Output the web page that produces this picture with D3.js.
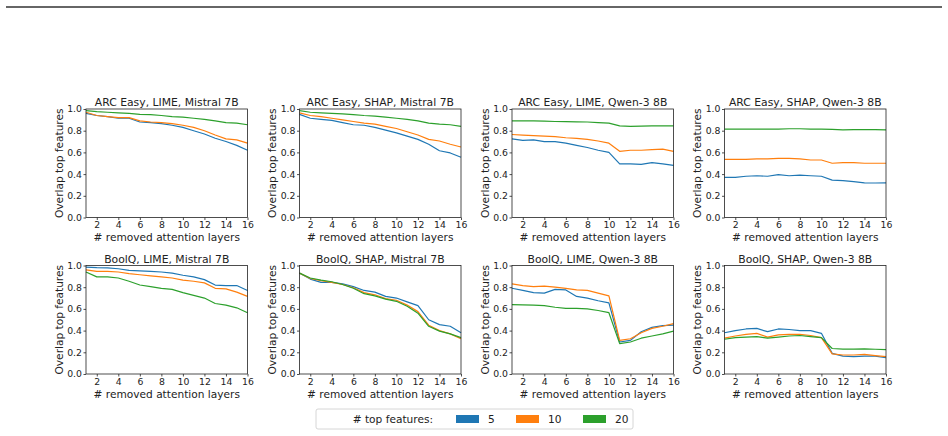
<!DOCTYPE html>
<html><head><meta charset="utf-8">
<script src="https://cdn.jsdelivr.net/npm/d3@7"></script>
<style>
body{margin:0;background:#fff;}
svg{display:block;font-family:"DejaVu Sans",sans-serif;}
</style></head>
<body><svg id="c" width="948" height="436"></svg>
<script>
const layers = d3.range(1, 17);
const xTicks = [2,4,6,8,10,12,14,16];
const yTicks = [0,0.2,0.4,0.6,0.8,1.0];
const seriesNames = ["5","10","20"];
const colors = ["#1f77b4","#ff7f0e","#2ca02c"];
const titles = [
  "ARC Easy, LIME, Mistral 7B","ARC Easy, SHAP, Mistral 7B","ARC Easy, LIME, Qwen-3 8B","ARC Easy, SHAP, Qwen-3 8B",
  "BoolQ, LIME, Mistral 7B","BoolQ, SHAP, Mistral 7B","BoolQ, LIME, Qwen-3 8B","BoolQ, SHAP, Qwen-3 8B"
];
// values per panel: [top5, top10, top20]
const arcLimeMistral = [
  [0.96,0.94,0.93,0.915,0.915,0.88,0.875,0.865,0.85,0.83,0.80,0.77,0.73,0.70,0.665,0.62],
  [0.97,0.94,0.93,0.92,0.92,0.89,0.88,0.875,0.865,0.85,0.83,0.80,0.76,0.725,0.715,0.685],
  [0.985,0.975,0.97,0.965,0.96,0.95,0.948,0.94,0.93,0.925,0.915,0.905,0.89,0.875,0.87,0.855]
];
const arcShapMistral = [
  [0.95,0.915,0.905,0.895,0.875,0.855,0.85,0.83,0.805,0.78,0.75,0.72,0.675,0.615,0.595,0.555],
  [0.965,0.94,0.93,0.915,0.90,0.885,0.87,0.86,0.84,0.82,0.79,0.76,0.72,0.705,0.675,0.65],
  [0.985,0.97,0.965,0.96,0.955,0.948,0.94,0.935,0.925,0.915,0.905,0.89,0.87,0.86,0.855,0.84]
];
const arcLimeQwen = [
  [0.725,0.71,0.715,0.70,0.70,0.685,0.665,0.645,0.62,0.60,0.495,0.495,0.49,0.505,0.495,0.48],
  [0.765,0.76,0.755,0.75,0.745,0.735,0.73,0.72,0.705,0.685,0.61,0.62,0.62,0.625,0.63,0.61],
  [0.89,0.89,0.89,0.888,0.885,0.883,0.882,0.88,0.875,0.87,0.845,0.84,0.843,0.845,0.845,0.845]
];
const arcShapQwen = [
  [0.37,0.37,0.38,0.385,0.38,0.395,0.385,0.39,0.385,0.38,0.345,0.34,0.33,0.32,0.318,0.32],
  [0.535,0.535,0.535,0.54,0.54,0.545,0.545,0.54,0.53,0.53,0.50,0.505,0.505,0.50,0.50,0.50],
  [0.815,0.815,0.815,0.815,0.815,0.815,0.818,0.818,0.815,0.815,0.812,0.808,0.81,0.81,0.81,0.808]
];
const boolqLimeMistral = [
  [0.985,0.98,0.978,0.97,0.955,0.95,0.945,0.94,0.93,0.91,0.895,0.87,0.82,0.815,0.815,0.77],
  [0.96,0.945,0.945,0.94,0.925,0.915,0.905,0.895,0.885,0.865,0.855,0.84,0.79,0.785,0.755,0.715],
  [0.94,0.895,0.895,0.885,0.855,0.82,0.805,0.79,0.78,0.75,0.725,0.70,0.65,0.635,0.61,0.565]
];
const boolqShapMistral = [
  [0.93,0.875,0.845,0.845,0.83,0.805,0.77,0.755,0.715,0.70,0.665,0.63,0.50,0.455,0.44,0.38],
  [0.93,0.88,0.86,0.845,0.825,0.795,0.75,0.73,0.695,0.68,0.635,0.575,0.45,0.40,0.37,0.325],
  [0.93,0.885,0.865,0.85,0.825,0.79,0.74,0.72,0.69,0.67,0.625,0.56,0.44,0.395,0.37,0.335]
];
const boolqLimeQwen = [
  [0.79,0.77,0.75,0.745,0.78,0.775,0.715,0.70,0.675,0.655,0.295,0.31,0.39,0.43,0.445,0.45],
  [0.83,0.815,0.805,0.81,0.80,0.79,0.775,0.77,0.745,0.72,0.31,0.325,0.38,0.42,0.44,0.465],
  [0.64,0.637,0.635,0.63,0.615,0.605,0.605,0.60,0.585,0.565,0.28,0.295,0.33,0.35,0.37,0.395]
];
const boolqShapQwen = [
  [0.38,0.40,0.415,0.42,0.39,0.415,0.41,0.40,0.40,0.375,0.19,0.165,0.16,0.165,0.165,0.15],
  [0.33,0.35,0.365,0.375,0.34,0.36,0.365,0.365,0.355,0.335,0.185,0.175,0.175,0.18,0.17,0.16],
  [0.32,0.335,0.34,0.345,0.33,0.34,0.35,0.355,0.345,0.335,0.235,0.23,0.23,0.232,0.228,0.225]
];
const panelData = [arcLimeMistral,arcShapMistral,arcLimeQwen,arcShapQwen,boolqLimeMistral,boolqShapMistral,boolqLimeQwen,boolqShapQwen];

const svg = d3.select("#c");
// top rule
svg.append("line").attr("x1",6).attr("x2",942).attr("y1",7).attr("y2",7)
  .attr("stroke","#333").attr("stroke-width",1.5);

const colLeft = [86, 299.5, 512, 724.5];
const rowTop = [109, 265.5];
const W = 161.5, H = 108.5;

panelData.forEach((d, i) => {
  const r = Math.floor(i/4), c = i%4;
  const g = svg.append("g").attr("transform",`translate(${colLeft[c]},${rowTop[r]})`);
  const x = d3.scaleLinear().domain([1,16]).range([0,W]);
  const y = d3.scaleLinear().domain([0,1]).range([H,0]);
  const line = d3.line().x((v,j)=>x(layers[j])).y(v=>y(v));
  d.forEach((s, k) => {
    g.append("path").datum(s).attr("d", line).attr("fill","none")
      .attr("stroke", colors[k]).attr("stroke-width",1.2).attr("stroke-linejoin","round");
  });
  const xa = g.append("g").attr("transform",`translate(0,${H})`)
    .call(d3.axisBottom(x).tickValues(xTicks).tickSize(2.5).tickPadding(1.5).tickFormat(d3.format("d")));
  const ya = g.append("g")
    .call(d3.axisLeft(y).tickValues(yTicks).tickSize(2.5).tickPadding(1.5).tickFormat(d3.format(".1f")));
  [xa,ya].forEach(a=>{
    a.attr("font-size",null).attr("font-family",null);
    a.select(".domain").remove();
    a.selectAll("text").attr("font-size",9.3).attr("fill","#222");
    a.selectAll("line").attr("stroke","#222").attr("stroke-width",0.8);
  });
  g.append("rect").attr("width",W).attr("height",H).attr("fill","none").attr("stroke","#222").attr("stroke-width",0.8);
  g.append("text").attr("x",W/2).attr("y",-2.8).attr("text-anchor","middle")
    .attr("font-size",10.8).attr("fill","#222").text(titles[i]);
  g.append("text").attr("x",W/2).attr("y",H+23.5).attr("text-anchor","middle")
    .attr("font-size",10.6).attr("fill","#222").text("# removed attention layers");
  g.append("text").attr("transform",`translate(-23.5,${H/2}) rotate(-90)`).attr("text-anchor","middle")
    .attr("font-size",10.6).attr("fill","#222").text("Overlap top features");
});

// legend
const lg = svg.append("g");
lg.append("rect").attr("x",316).attr("y",409).attr("width",317).attr("height",20).attr("rx",2)
  .attr("fill","#fff").attr("stroke","#ccc").attr("stroke-width",0.8);
lg.append("text").attr("x",433).attr("y",423).attr("text-anchor","end").attr("font-size",10.6).attr("fill","#222").text("# top features:");
const patchX = [456, 516, 583];
seriesNames.forEach((n,k)=>{
  lg.append("rect").attr("x",patchX[k]).attr("y",415).attr("width",23).attr("height",8).attr("fill",colors[k]);
  lg.append("text").attr("x",patchX[k]+32).attr("y",423).attr("font-size",10.6).attr("fill","#222").text(n);
});
</script></body></html>
